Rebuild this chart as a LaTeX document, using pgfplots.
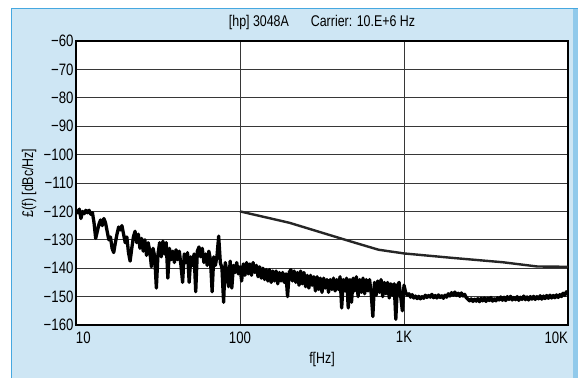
\documentclass[border=0pt]{standalone}
\usepackage{fontspec}
\setmainfont[FakeStretch=0.8]{Liberation Sans}
\usepackage{pgfplots}
\pgfplotsset{compat=1.18}

\definecolor{panel}{RGB}{206,230,244}
\definecolor{paneledge}{RGB}{70,168,224}
\definecolor{gridc}{RGB}{55,55,55}

% noise measurement, x = log10(f)
\pgfplotstableread{
lf y
1.00 -119.5
1.01 -120.5
1.02 -119.2
1.03 -122.5
1.04 -120.0
1.05 -120.8
1.06 -119.6
1.07 -120.5
1.08 -119.6
1.09 -121.0
1.10 -120.4
1.11 -124.0
1.12 -129.5
1.13 -127.0
1.14 -124.5
1.15 -123.0
1.16 -125.0
1.17 -122.5
1.18 -124.0
1.19 -127.0
1.20 -130.0
1.21 -129.0
1.22 -133.0
1.23 -134.5
1.24 -131.0
1.25 -128.0
1.26 -125.5
1.27 -126.5
1.28 -125.0
1.29 -128.0
1.30 -131.0
1.31 -129.0
1.32 -134.5
1.33 -137.5
1.34 -133.0
1.35 -129.0
1.36 -127.0
1.37 -131.0
1.38 -128.0
1.39 -133.0
1.40 -129.5
1.41 -134.0
1.42 -130.0
1.43 -135.5
1.44 -131.0
1.45 -134.0
1.46 -139.5
1.47 -133.0
1.48 -136.0
1.49 -147.0
1.50 -135.0
1.51 -131.0
1.52 -136.0
1.53 -130.5
1.54 -135.0
1.55 -131.0
1.56 -143.5
1.57 -133.0
1.58 -137.0
1.59 -134.0
1.60 -138.0
1.61 -133.5
1.62 -137.0
1.63 -134.0
1.64 -139.0
1.65 -145.0
1.66 -135.0
1.67 -138.0
1.68 -134.5
1.69 -145.0
1.70 -136.0
1.71 -139.0
1.72 -135.0
1.73 -148.3
1.74 -134.0
1.75 -132.5
1.76 -136.0
1.77 -133.0
1.78 -138.0
1.79 -135.0
1.80 -139.0
1.81 -134.0
1.82 -137.0
1.83 -148.3
1.84 -136.0
1.85 -139.0
1.86 -135.5
1.87 -128.7
1.88 -138.0
1.89 -140.0
1.90 -152.0
1.91 -138.0
1.92 -141.0
1.93 -146.5
1.94 -137.5
1.95 -147.0
1.96 -139.0
1.97 -141.5
1.98 -138.0
1.99 -142.0
2.00 -139.5
2.01 -144.5
2.02 -138.5
2.03 -142.5
2.04 -138.0
2.05 -142.0
2.06 -138.5
2.07 -142.5
2.08 -138.0
2.09 -141.5
2.10 -139.0
2.11 -143.0
2.12 -139.5
2.13 -143.5
2.14 -140.0
2.15 -144.0
2.16 -140.5
2.17 -144.5
2.18 -140.5
2.19 -145.0
2.20 -141.0
2.21 -144.5
2.22 -141.0
2.23 -145.5
2.24 -141.5
2.25 -144.5
2.26 -141.5
2.27 -145.0
2.28 -142.0
2.29 -150.0
2.30 -141.5
2.31 -140.5
2.32 -144.5
2.33 -141.0
2.34 -145.0
2.35 -141.5
2.36 -146.0
2.37 -141.0
2.38 -145.5
2.39 -141.5
2.40 -146.5
2.41 -142.5
2.42 -147.0
2.43 -142.5
2.44 -146.0
2.45 -143.0
2.46 -148.0
2.47 -143.0
2.48 -147.5
2.49 -143.5
2.50 -148.5
2.51 -143.5
2.52 -147.0
2.53 -144.0
2.54 -148.5
2.55 -144.0
2.56 -147.5
2.57 -143.5
2.58 -148.0
2.59 -144.0
2.60 -147.5
2.61 -143.0
2.62 -154.0
2.63 -144.0
2.64 -148.0
2.65 -143.5
2.66 -154.0
2.67 -144.0
2.68 -152.0
2.69 -143.5
2.70 -148.0
2.71 -143.0
2.72 -150.0
2.73 -144.0
2.74 -148.5
2.75 -143.5
2.76 -149.0
2.77 -144.0
2.78 -148.0
2.79 -144.0
2.80 -149.0
2.81 -157.0
2.82 -145.0
2.83 -149.5
2.84 -144.5
2.85 -148.5
2.86 -144.0
2.87 -150.0
2.88 -145.0
2.89 -149.0
2.90 -145.0
2.91 -150.5
2.92 -145.5
2.93 -149.5
2.94 -145.5
2.95 -158.0
2.96 -146.0
2.97 -145.0
2.98 -150.0
2.99 -155.0
3.00 -146.0
3.01 -148.5
3.02 -149.5
3.03 -149.0
3.04 -150.2
3.05 -149.3
3.06 -150.5
3.07 -149.8
3.08 -150.7
3.09 -149.9
3.10 -150.8
3.11 -150.0
3.12 -150.6
3.13 -149.5
3.14 -150.3
3.15 -149.6
3.16 -150.2
3.17 -149.2
3.18 -150.4
3.19 -149.6
3.20 -150.5
3.21 -149.4
3.22 -150.3
3.23 -149.7
3.24 -150.6
3.25 -149.5
3.26 -150.2
3.27 -149.0
3.28 -149.8
3.29 -148.6
3.30 -149.5
3.31 -148.4
3.32 -149.6
3.33 -148.8
3.34 -149.9
3.35 -148.7
3.36 -149.8
3.37 -149.2
3.38 -150.4
3.39 -150.9
3.40 -151.5
3.41 -150.8
3.42 -151.7
3.43 -150.9
3.44 -151.6
3.45 -150.7
3.46 -151.8
3.47 -150.6
3.48 -151.5
3.49 -150.5
3.50 -151.7
3.51 -150.6
3.52 -151.4
3.53 -150.3
3.54 -151.6
3.55 -150.8
3.56 -151.5
3.57 -150.4
3.58 -151.2
3.59 -150.1
3.60 -151.3
3.61 -150.2
3.62 -151.4
3.63 -150.0
3.64 -151.0
3.65 -149.9
3.66 -151.2
3.67 -150.3
3.68 -151.1
3.69 -150.0
3.70 -151.3
3.71 -150.2
3.72 -151.0
3.73 -149.8
3.74 -151.1
3.75 -150.1
3.76 -151.2
3.77 -150.0
3.78 -150.9
3.79 -149.9
3.80 -151.0
3.81 -150.0
3.82 -150.8
3.83 -149.7
3.84 -150.9
3.85 -149.8
3.86 -150.7
3.87 -149.6
3.88 -150.6
3.89 -149.5
3.90 -150.5
3.91 -149.6
3.92 -150.4
3.93 -149.4
3.94 -150.3
3.95 -149.3
3.96 -150.0
3.97 -148.8
3.98 -149.6
3.99 -148.3
4.00 -149.0
}\noise

% spec limit line
\pgfplotstableread{
lf y
2.000 -120.0
2.301 -124.0
2.500 -127.5
2.699 -131.0
2.845 -133.5
3.000 -134.8
3.301 -136.4
3.602 -137.9
3.813 -139.4
4.000 -139.5
}\limitline

\begin{document}
\begin{tikzpicture}[x=1pt,y=1pt]
\useasboundingbox (-76,-53) rectangle (502,325);
\fill[panel] (-65,-53) rectangle (502,317);
\draw[paneledge,line width=1.5pt] (-64.25,-53) -- (-64.25,316.25) -- (502,316.25);
\fill[paneledge!45!panel] (497,-53) rectangle (502,315.5);
\begin{axis}[
    at={(0,0)}, anchor=south west,
    scale only axis,
    width=492pt, height=284pt,
    xmin=1, xmax=4, ymin=-160, ymax=-60,
    axis background/.style={fill=white},
    axis line style={black, line width=1.3pt},
    xtick={1,2,3,4},
    xticklabels={\rlap{10},100,1K,\llap{10K}},
    ytick={-160,-150,...,-60},
    yticklabels={−160,−150,−140,−130,−120,−110,−100,−90,−80,−70,−60},
    major tick length=0pt,
    grid=major,
    major grid style={gridc, line width=0.8pt},
    tick label style={font=\fontsize{16.5}{18}\selectfont},
    xticklabel style={yshift=-3pt},
    yticklabel style={xshift=1pt},
    title={[hp] 3048A\hspace{22pt}Carrier: 10.E+6 Hz},
    title style={at={(0.5,1)}, anchor=base, yshift=8pt, font=\fontsize{15.5}{17}\selectfont},
    xlabel={f[Hz]},
    xlabel style={at={(axis description cs:0.5,-0.123)}, anchor=center, font=\fontsize{15.5}{17}\selectfont},
    ylabel={£(f) [dBc/Hz]},
    ylabel style={at={(axis description cs:-0.0955,0.5)}, anchor=center, font=\fontsize{15.5}{17}\selectfont},
    clip=true,
]
\addplot[black, line width=3.3pt, line join=round] table[x=lf,y=y] {\noise};
\addplot[black!85, line width=2.4pt, line join=round] table[x=lf,y=y] {\limitline};
\end{axis}
\end{tikzpicture}
\end{document}
